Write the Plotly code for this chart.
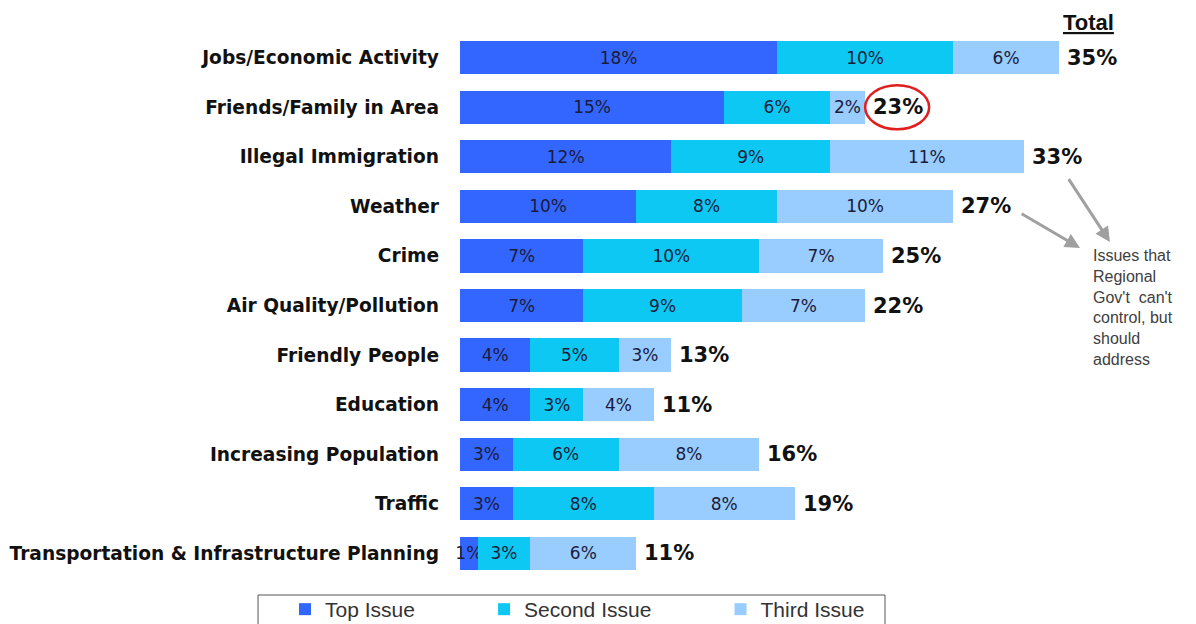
import plotly.graph_objects as go

categories = [
    "Jobs/Economic Activity",
    "Friends/Family in Area",
    "Illegal Immigration",
    "Weather",
    "Crime",
    "Air Quality/Pollution",
    "Friendly People",
    "Education",
    "Increasing Population",
    "Traffic",
    "Transportation & Infrastructure Planning",
]
top_issue = [18, 15, 12, 10, 7, 7, 4, 4, 3, 3, 1]
second_issue = [10, 6, 9, 8, 10, 9, 5, 3, 6, 8, 3]
third_issue = [6, 2, 11, 10, 7, 7, 3, 4, 8, 8, 6]
totals = [35, 23, 33, 27, 25, 22, 13, 11, 16, 19, 11]

NB = "\u00a0"
series = [
    ("Top Issue" + NB * 11, top_issue, "#3366ff"),
    ("Second Issue" + NB * 11, second_issue, "#0cc8f2"),
    ("Third Issue", third_issue, "#99ccff"),
]

fig = go.Figure()
for name, vals, color in series:
    fig.add_trace(
        go.Bar(
            y=categories,
            x=vals,
            name=name,
            orientation="h",
            marker=dict(color=color, line=dict(width=0)),
            width=0.67,
            text=[f"{v}%" for v in vals],
            textposition="inside",
            insidetextanchor="middle",
            constraintext="none",
            textangle=0,
            cliponaxis=False,
            textfont=dict(family="DejaVu Sans", size=17, color="#1b1b3a"),
        )
    )

# totals at the end of each bar
bar_ends = [a + b + c for a, b, c in zip(top_issue, second_issue, third_issue)]
for cat, end, tot in zip(categories, bar_ends, totals):
    fig.add_annotation(
        x=end, y=cat, text=f"<b>{tot}%</b>", showarrow=False,
        xanchor="left", xshift=6,
        font=dict(family="DejaVu Sans", size=21, color="#111111"),
    )

fig.add_annotation(
    xref="paper", yref="paper", x=0.86, y=1.0, xanchor="center",
    yanchor="middle", yshift=11,
    text="<b><u>Total</u></b>", showarrow=False,
    font=dict(family="Liberation Sans", size=22, color="#111111"),
)

# red ring around Friends/Family total
fig.add_shape(
    type="circle", xref="x", yref="y",
    xsizemode="pixel", xanchor=bar_ends[1], x0=0, x1=64,
    ysizemode="pixel", yanchor=1, y0=-22, y1=22,
    line=dict(color="#e01e1e", width=2.5),
)

# callout note with two arrows
fig.add_annotation(
    x=35.8, y=3.78, xanchor="left", yanchor="top", align="left",
    text="Issues that<br>Regional<br>Gov't  can't<br>control, but<br>should<br>address",
    showarrow=False,
    font=dict(family="Liberation Sans", size=16, color="#404040"),
)
for tail, tip in [((34.5, 2.42), (36.9, 3.72)), ((31.8, 3.13), (35.2, 3.84))]:
    fig.add_annotation(
        x=tip[0], y=tip[1], ax=tail[0], ay=tail[1], axref="x", ayref="y",
        text="", showarrow=True, arrowhead=2, arrowsize=1, arrowwidth=3,
        arrowcolor="#a0a0a0",
    )

# legend frame
fig.add_shape(
    type="rect", xref="paper", yref="paper",
    x0=-0.2763, x1=0.5814, y0=-0.0312, y1=-0.095,
    line=dict(color="#555555", width=1), fillcolor="rgba(0,0,0,0)",
)

fig.update_layout(
    barmode="stack",
    width=1188,
    height=616,
    margin=dict(l=452, r=5, t=25, b=46, autoexpand=False),
    plot_bgcolor="#ffffff",
    paper_bgcolor="#ffffff",
    font=dict(family="Liberation Sans"),
    legend=dict(
        orientation="h", x=-0.2394, xanchor="left", y=-0.0202, yanchor="top",
        borderwidth=0, bgcolor="rgba(0,0,0,0)",
        font=dict(family="Liberation Sans", size=21, color="#333333"),
        traceorder="normal",
    ),
)
fig.update_xaxes(range=[0, 41.5], visible=False)
fig.update_yaxes(
    autorange="reversed", showgrid=False, ticks="", showline=False,
    ticklabelstandoff=20,
    tickfont=dict(family="DejaVu Sans", size=18.6, color="#111111", weight="bold"),
)

fig.write_html("out.html")
